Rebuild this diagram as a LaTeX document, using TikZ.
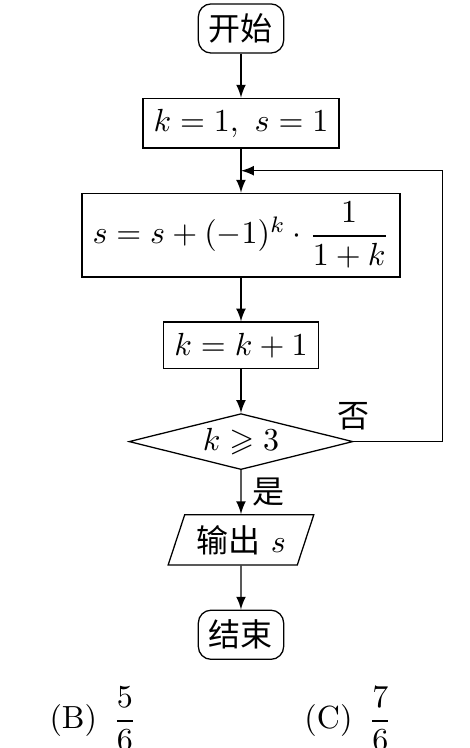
\documentclass[tikz,border=0pt]{standalone}
\usepackage{amsmath, amssymb}
\usepackage{fontspec}
\newfontfamily\cjk{Noto Sans CJK SC}
\usetikzlibrary{shapes.geometric, arrows, positioning, calc}
\tikzstyle{startstop} = [rectangle, rounded corners, minimum width=0.92cm, minimum height=0.54cm, inner ysep=2pt, text centered, draw=black, font=\cjk]
\tikzstyle{io} = [trapezium, trapezium left angle=69, trapezium right angle=111, trapezium stretches=true, minimum width=1.6cm, minimum height=0.55cm, inner ysep=2pt, text centered, draw=black]
\tikzstyle{process} = [rectangle, text centered, draw=black]
\tikzstyle{decision} = [diamond, aspect=4, inner sep=0pt, minimum width=2.46cm, minimum height=0.615cm, text centered, draw=black]
\tikzstyle{arrow} = [->,>=latex]

\begin{document}
\begin{tikzpicture}[node distance=0.483cm]
\useasboundingbox (-2.647,0.313) rectangle (2.515,-7.903);
\node (start) [startstop] at (0,0) {开始};
\node (init) [process, below=of start] {$k=1,\ s=1$};
\node (upd) [process, inner ysep=2.6pt, below=of init] {$s=s+(-1)^k\cdot\dfrac{1}{1+k}$};
\node (inc) [process, below=of upd] {$k=k+1$};
\node (dia) [decision, below=of inc] {$k\geqslant 3$};
\node (out) [io, below=of dia] {{\cjk 输出} $s$};
\node (stop) [startstop, below=of out] {结束};
\coordinate (join) at ($(init.south)!0.5!(upd.north)$);
\coordinate [right=0.46cm of upd] (back);
\draw [arrow] (start) -- (init);
\draw [arrow] (init) -- (upd);
\draw [arrow] (upd) -- (inc);
\draw [arrow] (inc) -- (dia);
\draw [arrow] (dia) -- node (yes) [right, font=\cjk] {是} (out);
\draw [arrow] (out) -- (stop);
\draw [arrow] (dia.east) -| (back) |- (join);
\node (no) [above, font=\cjk] at (dia.east) {否};
\node (optB) [anchor=base west, inner sep=0pt] at (-2.11,-7.694) {(B)~$\,\dfrac{5}{6}$};
\node (optC) [anchor=base west, inner sep=0pt] at (0.69,-7.694) {(C)~$\,\dfrac{7}{6}$};
\end{tikzpicture}
\end{document}
